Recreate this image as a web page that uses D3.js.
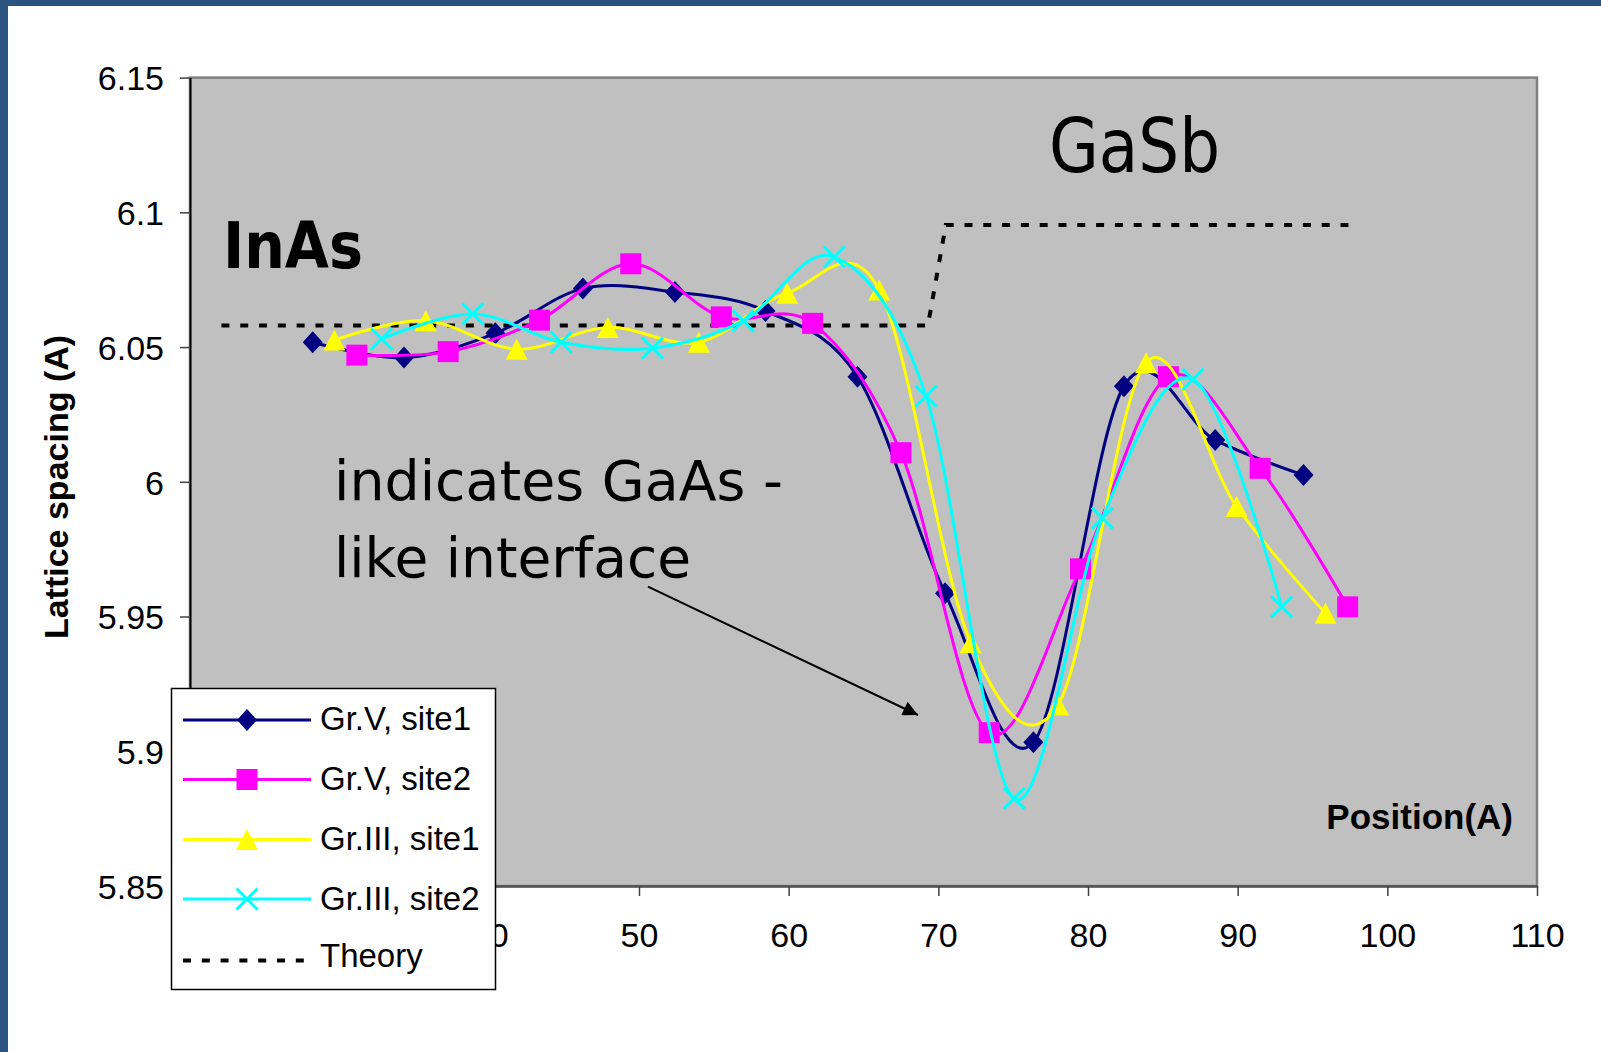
<!DOCTYPE html>
<html><head><meta charset="utf-8">
<script src="https://cdn.jsdelivr.net/npm/d3@7"></script>
<style>
html,body{margin:0;padding:0;background:#fff;overflow:hidden;}
svg{display:block;}
</style></head>
<body>
<svg id="chart" width="1601" height="1052"></svg>
<script>
// ---- data ----
const xTicks = [20, 30, 40, 50, 60, 70, 80, 90, 100, 110];
// 20 and 30 are fully hidden behind the legend in the original
const xTickLabels = ["", "", "40", "50", "60", "70", "80", "90", "100", "110"];
const yTicks = [5.85, 5.9, 5.95, 6, 6.05, 6.1, 6.15];
const yTickLabels = ["5.85", "5.9", "5.95", "6", "6.05", "6.1", "6.15"];

const seriesNames = ["Gr.V, site1", "Gr.V, site2", "Gr.III, site1", "Gr.III, site2", "Theory"];
const seriesColors = ["#000080", "#FF00FF", "#FFFF00", "#00FFFF", "#000000"];

const grV1X = [28.2, 34.3, 40.4, 46.25, 52.4, 58.45, 64.6, 70.45, 76.35, 82.4, 88.5, 94.4];
const grV1Y = [6.0518, 6.0461, 6.0551, 6.0717, 6.0704, 6.0634, 6.039, 5.9586, 5.9033, 6.0355, 6.0155, 6.0025];

const grV2X = [31.15, 37.25, 43.35, 49.45, 55.5, 61.6, 67.5, 73.4, 79.5, 85.37, 91.5, 97.35];
const grV2Y = [6.047, 6.0483, 6.06, 6.0809, 6.0612, 6.0588, 6.0108, 5.9069, 5.9677, 6.039, 6.005, 5.9536];

const grIII1X = [29.65, 35.75, 41.83, 47.92, 54.0, 59.9, 66.05, 72.16, 78.0, 83.88, 89.93, 95.87];
const grIII1Y = [6.0526, 6.0598, 6.0492, 6.0573, 6.0518, 6.07, 6.0712, 5.9403, 5.9172, 6.0442, 5.9908, 5.9512];

const grIII2X = [32.8, 38.9, 44.8, 50.9, 56.96, 63.05, 69.18, 75.07, 80.96, 87.02, 92.94];
const grIII2Y = [6.053, 6.0623, 6.0518, 6.0496, 6.0597, 6.0835, 6.0318, 5.8825, 5.9865, 6.038, 5.9536];

const theoryX = [22.1, 69.3, 70.5, 97.4];
const theoryY = [6.058, 6.058, 6.0953, 6.0953];

// ---- layout ----
const svg = d3.select("#chart");
const W = 1601, H = 1052;
const plot = {left: 190, right: 1537, top: 77.6, bottom: 886};

const x = d3.scaleLinear().domain([20, 110]).range([plot.left, plot.right]);
const y = d3.scaleLinear().domain([5.85, 6.15]).range([plot.bottom, plot.top]);

// frame
svg.append("rect").attr("x", 0).attr("y", 0).attr("width", W).attr("height", H).attr("fill", "#fff");
svg.append("rect").attr("x", 0).attr("y", 0).attr("width", W).attr("height", 6).attr("fill", "#2B5580");
svg.append("rect").attr("x", 0).attr("y", 0).attr("width", 8).attr("height", H).attr("fill", "#2B5580");

// plot area
svg.append("rect")
  .attr("x", plot.left).attr("y", plot.top)
  .attr("width", plot.right - plot.left).attr("height", plot.bottom - plot.top)
  .attr("fill", "#C0C0C0").attr("stroke", "#808080").attr("stroke-width", 2.5);

const tickFont = "'Liberation Sans', Arial, sans-serif";

// y axis
const yAxis = d3.axisLeft(y).tickValues(yTicks)
  .tickFormat((d, i) => yTickLabels[i]).tickSize(10).tickSizeOuter(0).tickPadding(16);
const gy = svg.append("g").attr("transform", `translate(${plot.left},0)`).call(yAxis);
gy.select(".domain").attr("stroke", "#000").attr("stroke-width", 2);
gy.selectAll(".tick line").attr("stroke", "#404040").attr("stroke-width", 1.5);
gy.selectAll(".tick text").attr("font-family", tickFont).attr("font-size", 34).attr("fill", "#000")
  .attr("dy", "0.36em");

// x axis
const xAxis = d3.axisBottom(x).tickValues(xTicks).tickFormat((d, i) => xTickLabels[i])
  .tickSize(10).tickSizeOuter(0).tickPadding(0);
const gx = svg.append("g").attr("transform", `translate(0,${plot.bottom})`).call(xAxis);
gx.select(".domain").attr("stroke", "#505050").attr("stroke-width", 2.5);
gx.selectAll(".tick line").attr("stroke", "#404040").attr("stroke-width", 1.5);
gx.selectAll(".tick text").attr("font-family", tickFont).attr("font-size", 34).attr("fill", "#000")
  .attr("dy", null).attr("y", 61);

// axis titles
svg.append("text").attr("transform", "translate(68,487) rotate(-90)")
  .attr("text-anchor", "middle").attr("font-family", tickFont).attr("font-weight", "bold")
  .attr("font-size", 34).text("Lattice spacing (A)");
svg.append("text").attr("x", 1513).attr("y", 829).attr("text-anchor", "end")
  .attr("font-family", tickFont).attr("font-weight", "bold").attr("font-size", 35).text("Position(A)");

// annotations
const annFont = "'DejaVu Sans', Verdana, sans-serif";
svg.append("text").attr("x", 223).attr("y", 268).attr("font-family", annFont).attr("font-weight", "bold")
  .attr("font-size", 64).attr("textLength", 140).attr("lengthAdjust", "spacingAndGlyphs").text("InAs");
svg.append("text").attr("x", 1049).attr("y", 172).attr("font-family", annFont)
  .attr("font-size", 75).attr("textLength", 171).attr("lengthAdjust", "spacingAndGlyphs").text("GaSb");
svg.append("text").attr("x", 334).attr("y", 500).attr("font-family", annFont)
  .attr("font-size", 55).attr("textLength", 449).attr("lengthAdjust", "spacingAndGlyphs").text("indicates GaAs -");
svg.append("text").attr("x", 334).attr("y", 577).attr("font-family", annFont)
  .attr("font-size", 55).attr("textLength", 357).attr("lengthAdjust", "spacingAndGlyphs").text("like interface");

// arrow
svg.append("defs").append("marker").attr("id", "arrowhead")
  .attr("viewBox", "0 0 10 10").attr("refX", 10).attr("refY", 5)
  .attr("markerUnits", "userSpaceOnUse").attr("markerWidth", 17).attr("markerHeight", 15)
  .attr("orient", "auto")
  .append("path").attr("d", "M0,0 L10,5 L0,10 Z").attr("fill", "#000");
svg.append("line").attr("x1", 648).attr("y1", 586.7).attr("x2", 918).attr("y2", 715)
  .attr("stroke", "#000").attr("stroke-width", 2).attr("marker-end", "url(#arrowhead)");

// markers
function markerPath(kind) {
  switch (kind) {
    case "diamond": return "M0,-11 L10,0 L0,11 L-10,0 Z";
    case "square": return "M-10.5,-10.5 H10.5 V10.5 H-10.5 Z";
    case "triangle": return "M0,-10.5 L11,10.5 L-11,10.5 Z";
    case "cross": return "M-10.5,-10.5 L10.5,10.5 M10.5,-10.5 L-10.5,10.5";
  }
}
function drawMarker(g, kind, color, cx, cy) {
  const p = g.append("path").attr("transform", `translate(${cx},${cy})`).attr("d", markerPath(kind));
  if (kind === "cross") p.attr("fill", "none").attr("stroke", color).attr("stroke-width", 3);
  else p.attr("fill", color).attr("stroke", "none");
}

const smooth = d3.line().curve(d3.curveCatmullRom.alpha(0));
const straight = d3.line();

const dataSeries = [
  {xs: grV1X, ys: grV1Y, kind: "diamond", color: seriesColors[0]},
  {xs: grV2X, ys: grV2Y, kind: "square", color: seriesColors[1]},
  {xs: grIII1X, ys: grIII1Y, kind: "triangle", color: seriesColors[2]},
  {xs: grIII2X, ys: grIII2Y, kind: "cross", color: seriesColors[3]}
];

// theory
svg.append("path")
  .attr("d", straight(theoryX.map((v, i) => [x(v), y(theoryY[i])])))
  .attr("fill", "none").attr("stroke", "#000").attr("stroke-width", 4).attr("stroke-dasharray", "8,10.8");

dataSeries.forEach(s => {
  const g = svg.append("g");
  const pts = s.xs.map((v, i) => [x(v), y(s.ys[i])]);
  g.append("path").attr("d", smooth(pts)).attr("fill", "none")
    .attr("stroke", s.color).attr("stroke-width", 3).attr("stroke-linejoin", "round");
  pts.forEach(p => drawMarker(g, s.kind, s.color, p[0], p[1]));
});

// legend
const lg = svg.append("g");
lg.append("rect").attr("x", 171.5).attr("y", 688.5).attr("width", 324).attr("height", 301)
  .attr("fill", "#fff").attr("stroke", "#000").attr("stroke-width", 1.5);
const rowY = [720, 779.5, 839.5, 899, 960.5];
const textY = [730, 790, 850, 910, 967];
const kinds = ["diamond", "square", "triangle", "cross", null];
seriesNames.forEach((name, i) => {
  const ry = rowY[i];
  if (i < 4) {
    lg.append("line").attr("x1", 183).attr("x2", 311).attr("y1", ry).attr("y2", ry)
      .attr("stroke", seriesColors[i]).attr("stroke-width", 3);
    drawMarker(lg, kinds[i], seriesColors[i], 247, ry);
  } else {
    lg.append("line").attr("x1", 183).attr("x2", 306).attr("y1", ry).attr("y2", ry)
      .attr("stroke", "#000").attr("stroke-width", 4).attr("stroke-dasharray", "8,10.8");
  }
  lg.append("text").attr("x", 320).attr("y", textY[i]).attr("font-family", tickFont)
    .attr("font-size", 33).attr("fill", "#000").text(name);
});
</script>
</body></html>
